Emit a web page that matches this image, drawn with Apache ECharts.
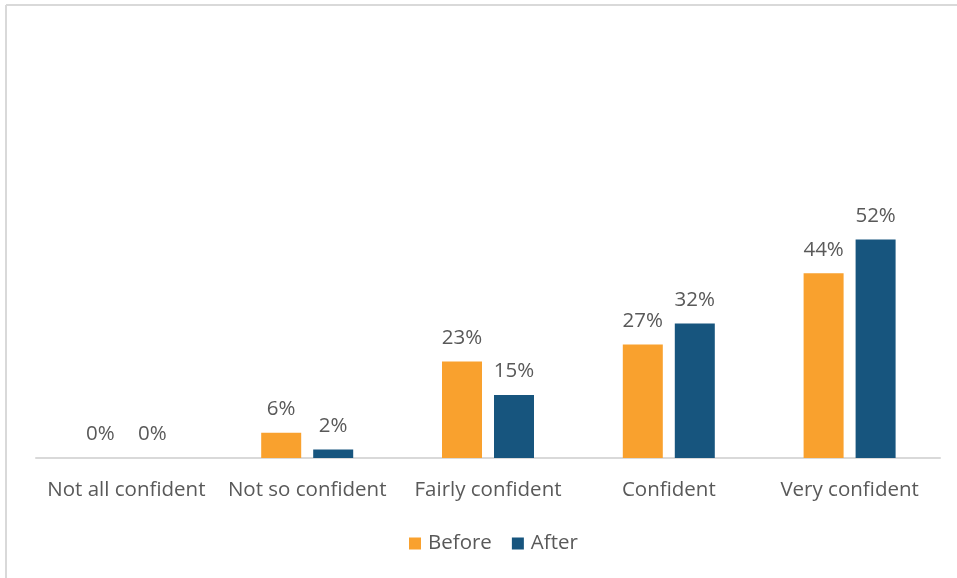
<!DOCTYPE html>
<html>
<head>
<meta charset="utf-8">
<script src="https://cdn.jsdelivr.net/npm/echarts@6/dist/echarts.min.js"></script>
<style>html,body{margin:0;padding:0;background:#fff;}#c{width:957px;height:578px;}</style>
</head>
<body>
<div id="c"></div>
<script>
const categories = ['Not all confident', 'Not so confident', 'Fairly confident', 'Confident', 'Very confident'];
const beforeValues = [0, 6, 23, 27, 44];
const afterValues = [0, 2, 15, 32, 52];
const seriesNames = ['Before', 'After'];

const FONT = 'Open Sans';
const chart = echarts.init(document.getElementById('c'));
const labelCfg = {
  show: true, position: 'top', distance: 13,
  formatter: p => p.value + '%',
  color: '#595959', fontSize: 20.5, fontFamily: FONT
};
chart.setOption({
  animation: false,
  textStyle: { fontFamily: FONT },
  graphic: [
    { type: 'line', shape: { x1: 6, y1: 5, x2: 957, y2: 5 }, style: { stroke: '#d9d9d9', lineWidth: 2 } },
    { type: 'line', shape: { x1: 6, y1: 5, x2: 6, y2: 578 }, style: { stroke: '#d9d9d9', lineWidth: 2 } }
  ],
  legend: {
    top: 528, left: 404, itemWidth: 12, itemHeight: 12, itemGap: 20,
    icon: 'rect',
    textStyle: { color: '#595959', fontSize: 20.5, fontFamily: FONT, padding: [0, 0, 0, 2] }
  },
  grid: { left: 36, right: 17, top: 206, bottom: 120 },
  xAxis: {
    type: 'category', data: categories,
    axisLine: { lineStyle: { color: '#d9d9d9', width: 2 } },
    axisTick: { show: false },
    axisLabel: { color: '#595959', fontSize: 20.5, fontFamily: FONT, margin: 22, interval: 0 }
  },
  yAxis: {
    type: 'value', min: 0, max: 60, interval: 10,
    show: false, splitLine: { show: false }
  },
  series: [
    { name: seriesNames[0], type: 'bar', data: beforeValues, barWidth: 40, barGap: '30%',
      itemStyle: { color: '#F9A12E' }, label: labelCfg },
    { name: seriesNames[1], type: 'bar', data: afterValues, barWidth: 40,
      itemStyle: { color: '#17557E' }, label: labelCfg }
  ]
});
</script>
</body>
</html>
